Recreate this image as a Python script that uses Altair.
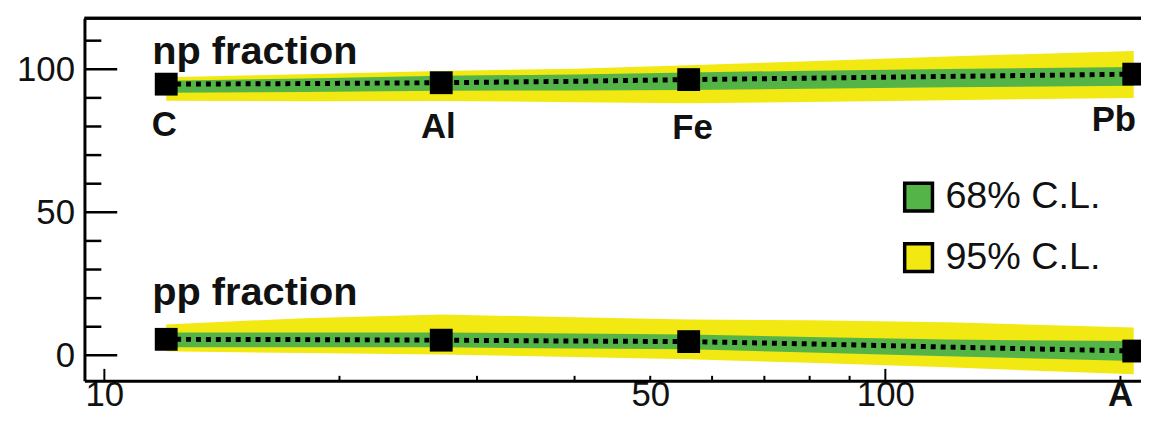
import altair as alt
import pandas as pd

FONT = "Liberation Sans"
GREEN = "#55b447"
YELLOW = "#f2e912"

# ---- data ----
a_grid = [12, 18, 27, 40, 56, 80, 120, 208]
np_line = [94.8, 95.0, 95.3, 95.8, 96.4, 96.9, 97.5, 98.3]
np_g_lo = [91.8, 92.1, 92.5, 92.6, 92.8, 93.2, 93.7, 94.2]
np_g_hi = [96.0, 96.8, 97.7, 98.2, 98.9, 99.5, 100.1, 100.8]
np_y_lo = [89.0, 88.8, 88.9, 88.5, 88.1, 88.6, 89.2, 90.0]
np_y_hi = [97.2, 98.3, 99.4, 100.2, 101.4, 102.8, 104.5, 106.4]

pp_line = [5.6, 5.5, 5.3, 5.0, 4.8, 4.0, 2.9, 1.5]
pp_g_lo = [2.8, 2.8, 2.8, 2.4, 2.1, 1.0, -0.3, -2.0]
pp_g_hi = [8.0, 8.0, 8.0, 7.6, 7.3, 6.4, 5.5, 5.0]
pp_y_lo = [1.4, 0.8, 0.3, -0.6, -1.4, -2.6, -4.2, -6.6]
pp_y_hi = [10.8, 13.0, 14.3, 13.3, 12.5, 12.3, 11.6, 9.7]

elements = ["C", "Al", "Fe", "Pb"]
element_a = [12, 27, 56, 208]
np_points = [94.8, 95.3, 96.4, 98.3]
pp_points = [5.6, 5.3, 4.8, 1.5]

series_names = ["np fraction", "pp fraction"]
levels = ["68% C.L.", "95% C.L."]

x_labels = [10, 50, 100]
x_major = [10, 100]
x_minor = [20, 30, 40, 50, 60, 70, 80, 90, 200]
y_labels = [0, 50, 100]
y_major = [0, 50, 100]
y_minor = [10, 20, 30, 40, 60, 70, 80, 90, 110]

# ---- tables ----
band_rows = []
for s, g_lo, g_hi, y_lo, y_hi in [
    ("np", np_g_lo, np_g_hi, np_y_lo, np_y_hi),
    ("pp", pp_g_lo, pp_g_hi, pp_y_lo, pp_y_hi),
]:
    for i, a in enumerate(a_grid):
        band_rows.append(dict(A=a, series=s, level=levels[0], lo=g_lo[i], hi=g_hi[i]))
        band_rows.append(dict(A=a, series=s, level=levels[1], lo=y_lo[i], hi=y_hi[i]))
bands = pd.DataFrame(band_rows)

line_rows = []
for s, vals in [("np", np_line), ("pp", pp_line)]:
    for a, v in zip(a_grid, vals):
        line_rows.append(dict(A=a, series=s, value=v))
lines = pd.DataFrame(line_rows)

pts_rows = []
for s, vals in [("np", np_points), ("pp", pp_points)]:
    for e, a, v in zip(elements, element_a, vals):
        pts_rows.append(dict(element=e, A=a, series=s, value=v))
pts = pd.DataFrame(pts_rows)

names = pd.DataFrame(dict(name=series_names, A=[element_a[0]] * 2,
                          value=[np_points[0], pp_points[0]]))

xt = pd.DataFrame(dict(v=x_major + x_minor,
                       kind=["major"] * len(x_major) + ["minor"] * len(x_minor)))
yt = pd.DataFrame(dict(v=y_major + y_minor,
                       kind=["major"] * len(y_major) + ["minor"] * len(y_minor)))

W, H = 1064, 365
xscale = alt.Scale(type="log", domain=[9.43, 212.5], nice=False)
yscale = alt.Scale(domain=[-8.9, 117.8], nice=False, zero=False)

xaxis = alt.Axis(values=x_labels, format="d", ticks=False, grid=False,
                 domainColor="black", domainWidth=3,
                 labelFont=FONT, labelFontSize=35, labelColor="#111",
                 labelPadding=25, labelBaseline="alphabetic", labelFlush=False,
                 labelOverlap=False,
                 title="A", titleFont=FONT, titleFontSize=35, titleFontWeight="bold",
                 titleColor="#111", titleX=1043, titleY=25,
                 titleBaseline="alphabetic", titleAlign="center", titleAngle=0)
yaxis = alt.Axis(values=y_labels, ticks=False, grid=False,
                 domainColor="black", domainWidth=3,
                 labelFont=FONT, labelFontSize=35, labelColor="#111",
                 labelPadding=10, title=None)

def X(field):
    return alt.X(field, scale=xscale, axis=xaxis)

def Y(field):
    return alt.Y(field, scale=yscale, axis=yaxis)

legend = alt.Legend(title=None, orient="none", legendX=821, legendY=161,
                    symbolType="square", symbolSize=784, symbolStrokeColor="black",
                    symbolStrokeWidth=3.5, symbolOpacity=1,
                    labelFont=FONT, labelFontSize=38, labelColor="#111",
                    labelOffset=8, rowPadding=19, padding=0, labelLimit=400)
color = alt.Color("level:N", scale=alt.Scale(domain=levels, range=[GREEN, YELLOW]),
                  legend=legend)

base_band = alt.Chart(bands)
yellow = base_band.transform_filter(alt.datum.level == levels[1]).mark_area(
    opacity=1, clip=True).encode(
    x=X("A:Q"), y=Y("lo:Q"), y2="hi:Q", color=color, detail="series:N")
green = base_band.transform_filter(alt.datum.level == levels[0]).mark_area(
    opacity=1, clip=True).encode(
    x=X("A:Q"), y=Y("lo:Q"), y2="hi:Q", color=color, detail="series:N")

dots = alt.Chart(lines).mark_line(color="black", strokeWidth=5,
                                  strokeDash=[5, 5], clip=True).encode(
    x=X("A:Q"), y=Y("value:Q"), detail="series:N")

squares = alt.Chart(pts).mark_square(color="black", size=529, opacity=1,
                                     filled=True).encode(
    x=X("A:Q"), y=Y("value:Q"))

def elabel(e, dx, dy, align="center"):
    return alt.Chart(pts).transform_filter(
        (alt.datum.series == "np") & (alt.datum.element == e)).mark_text(
        font=FONT, fontSize=35, fontWeight="bold", color="#111",
        align=align, baseline="alphabetic", dx=dx, dy=dy).encode(
        x=X("A:Q"), y=Y("value:Q"), text="element:N")

labels = [elabel("C", -2, 52), elabel("Al", -3, 56), elabel("Fe", 4, 60),
          elabel("Pb", -20, 57)]

def nlabel(n, dy):
    return alt.Chart(names).transform_filter(alt.datum.name == n).mark_text(
        font=FONT, fontSize=40, fontWeight="bold", color="#111",
        align="left", baseline="alphabetic", dx=-14, dy=dy).encode(
        x=X("A:Q"), y=Y("value:Q"), text="name:N")

name_labels = [nlabel(series_names[0], -20), nlabel(series_names[1], -35)]

def yticks(kind, length):
    return alt.Chart(yt).transform_filter(alt.datum.kind == kind).mark_rule(
        color="black", strokeWidth=2.5).encode(
        y=Y("v:Q"), x=alt.value(0), x2=alt.value(length))

def xticks(kind, length):
    return alt.Chart(xt).transform_filter(alt.datum.kind == kind).mark_rule(
        color="black", strokeWidth=2).encode(
        x=X("v:Q"), y=alt.value(H), y2=alt.value(H - length))

top = alt.Chart(names).mark_rule(color="black", strokeWidth=3).encode(
    x=alt.value(0), x2=alt.value(W), y=alt.value(0))

chart = alt.layer(
    yellow, green, dots, squares, *labels, *name_labels,
    yticks("major", 33), yticks("minor", 17),
    xticks("major", 12), xticks("minor", 5), top,
).properties(
    width=W, height=H,
    autosize=alt.AutoSizeParams(type="none"),
    padding={"left": 77, "top": 9, "right": 0, "bottom": 32},
).configure_view(stroke=None).configure(background="white")

chart.save("out.html", embed_options={"renderer": "svg", "actions": False})
